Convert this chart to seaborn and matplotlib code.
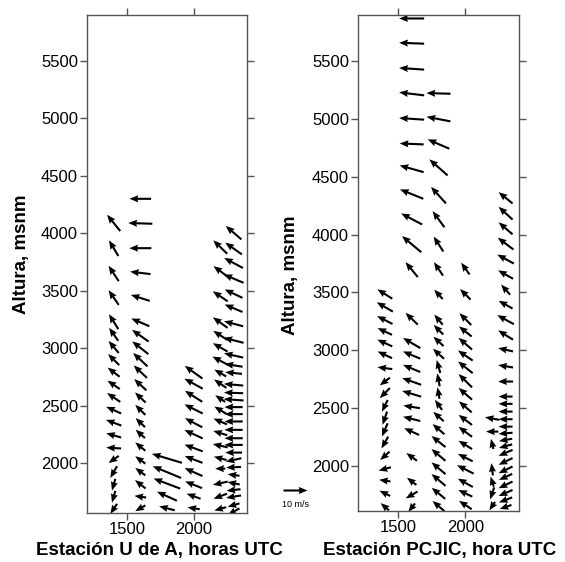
import numpy as np
import pandas as pd
import matplotlib
matplotlib.use("Agg")
import matplotlib.pyplot as plt
import seaborn as sns

sns.set_theme(style="ticks")
plt.rcParams['font.family'] = ['Liberation Sans', 'DejaVu Sans']
plt.rcParams['text.color'] = 'black'
plt.rcParams['axes.labelcolor'] = 'black'

# =========================
# Estacion U de A  (hora UTC, altura msnm, u, v en m/s)
# =========================
uda_h_1400 = [4090, 3870, 3650, 3440, 3230, 3120, 3010, 2900, 2790, 2680, 2570, 2460, 2350, 2240, 2130, 2030, 1920, 1810, 1705, 1600]
uda_u_1400 = [-5.5, -3.9, -4.2, -4.2, -3.9, -3.8, -4.2, -4.6, -5.0, -5.1, -5.5, -6.2, -6.4, -6.2, -6.2, -4.2, -2.8, -1.4, -1.4, -2.8]
uda_v_1400 = [6.8, 6.5, 6.4, 6.1, 6.2, 5.4, 5.0, 4.6, 3.8, 3.5, 3.7, 2.8, 2.4, 1.8, 0.4, -3.0, -4.9, -4.9, -4.9, -4.2]

uda_h_1600 = [4300, 4086, 3870, 3655, 3437, 3224, 3108, 3003, 2899, 2795, 2681, 2570, 2462, 2351, 2253, 2142, 2026, 1924, 1814, 1706, 1605]
uda_u_1600 = [-9.0, -10.0, -9.2, -8.5, -7.9, -7.5, -6.9, -6.7, -6.0, -5.5, -5.1, -4.4, -4.2, -3.9, -3.9, -4.2, -4.2, -4.2, -4.4, -4.9, -4.2]
uda_v_1600 = [0.0, 0.3, 0.0, 1.0, 2.5, 3.2, 4.9, 5.3, 5.6, 5.2, 4.7, 4.2, 4.2, 3.8, 3.5, 3.5, 3.1, 3.1, 3.5, 0.7, -2.4]

uda_h_1800 = [2040, 1920, 1820, 1710, 1605]
uda_u_1800 = [-12.5, -11.8, -11.1, -8.3, -6.5]
uda_v_1800 = [3.75, 4.9, 4.2, 3.75, 1.7]

uda_h_2000 = [2790, 2690, 2580, 2470, 2350, 2250, 2130, 2030, 1920, 1810, 1710, 1605]
uda_u_2000 = [-7.4, -7.6, -7.2, -7.6, -7.2, -7.6, -7.6, -7.4, -7.4, -7.0, -5.8, -5.1]
uda_v_2000 = [5.3, 4.2, 4.6, 3.8, 3.8, 3.5, 2.8, 2.8, 3.3, 2.8, 2.1, 0.8]

uda_h_2200 = [3880, 3670, 3451, 3222, 3111, 3006, 2890, 2783, 2690, 2560, 2460, 2361, 2260, 2150, 2040, 1950, 1823, 1710, 1600]
uda_u_2200 = [-5.8, -5.6, -6.2, -6.1, -5.8, -6.1, -6.5, -4.9, -5.1, -4.2, -4.9, -5.6, -5.8, -6.2, -5.3, -4.2, -6.2, -5.6, -4.9]
uda_v_2200 = [5.6, 4.2, 4.2, 4.4, 3.75, 3.5, 3.5, 2.8, 3.5, 2.8, 3.0, 2.4, 1.8, 1.4, 1.4, 0.0, -1.4, -2.1, -1.4]

uda_h_2300 = [4005, 3867, 3741, 3605, 3474, 3347, 3212, 3068, 2936, 2850, 2783, 2681, 2610, 2550, 2486, 2425, 2361, 2288, 2215, 2157,
              2090, 2026, 1962, 1895, 1823, 1764, 1706, 1633, 1575]
uda_u_2300 = [-6.5, -6.9, -7.8, -8.3, -7.4, -7.4, -8.0, -8.3, -8.0, -7.5, -7.0, -8.0, -8.0, -8.3, -7.6, -7.6, -7.6, -7.6, -7.6, -7.6,
              -7.0, -6.5, -6.2, -4.9, -5.1, -5.8, -6.2, -4.9, -4.9]
uda_v_2300 = [5.6, 4.9, 4.2, 3.5, 3.5, 3.1, 2.1, 2.1, 1.8, 1.2, 0.7, 0.7, 0.3, 0.6, 0.0, 0.0, 0.0, 0.0, 0.0, 0.0,
              0.0, -1.4, -0.3, 0.7, 1.0, -0.7, -1.0, -1.4, -2.8]

# =========================
# Estacion PCJIC
# =========================
pcj_h_1400 = [3487, 3375, 3262, 3163, 3063, 2961, 2846, 2730, 2630, 2520, 2413, 2312, 2202, 2087, 1974, 1873, 1763, 1647]
pcj_u_1400 = [-6.2, -6.7, -6.4, -6.0, -6.2, -6.0, -6.2, -4.2, -4.2, -2.4, -1.9, -2.4, -2.8, -3.9, -5.1, -4.7, -4.4, -3.5]
pcj_v_1400 = [3.9, 3.9, 3.3, 2.8, 2.8, 2.8, 0.8, -3.2, -4.2, -4.9, -5.5, -5.5, -4.9, -3.5, -1.4, 0.7, 2.2, 3.0]

pcj_h_1600 = [5870, 5656, 5435, 5218, 5002, 4785, 4570, 4351, 4136, 3918, 3698, 3273, 3063, 2959, 2843, 2731, 2624, 2511, 2407, 2297,
              2078, 1867, 1749, 1639]
pcj_u_1600 = [-10.4, -10.4, -10.4, -10.4, -10.4, -10.0, -10.0, -9.7, -8.75, -8.0, -5.1, -5.1, -7.2, -7.2, -7.2, -7.9, -7.9, -6.9, -7.2, -6.2,
              -4.4, -3.9, -4.9, -2.8]
pcj_v_1600 = [0.0, 0.4, 0.7, 1.25, 0.7, 0.4, 2.8, 3.9, 4.6, 6.7, 6.2, 4.9, 4.2, 3.0, 3.0, 2.8, 2.4, 1.1, 1.8, 2.8,
              3.2, 3.0, -2.8, -3.5]

pcj_h_1800 = [5222, 5000, 4784, 4582, 4342, 4134, 3919, 3704, 3484, 3265, 3178, 3077, 2970, 2860, 2745, 2630, 2528, 2427, 2318, 2211,
              2095, 1980, 1879, 1763, 1653]
pcj_u_1800 = [-10.0, -9.9, -9.0, -7.6, -6.2, -4.9, -4.0, -3.75, -3.5, -3.5, -4.0, -4.2, -4.6, -1.5, -1.0, -0.8, -3.0, -4.4, -4.9, -5.8,
              -5.8, -5.8, -5.8, -5.6, -4.9]
pcj_v_1800 = [0.3, 1.9, 3.9, 6.7, 6.9, 6.7, 6.2, 5.6, 3.9, 4.2, 4.0, 3.9, 4.2, 5.4, 5.4, 4.8, 4.2, 3.9, 4.2, 4.6,
              4.9, 4.9, 4.9, 4.6, 4.2]

pcj_h_2000 = [3707, 3484, 3270, 3163, 3057, 2955, 2853, 2737, 2624, 2511, 2398, 2295, 2182, 2072, 1970, 1854, 1763, 1662]
pcj_u_2000 = [-3.5, -4.4, -4.9, -5.3, -5.6, -6.1, -6.1, -5.6, -5.6, -5.3, -5.6, -5.6, -5.6, -6.1, -6.9, -6.2, -5.8, -5.3]
pcj_v_2000 = [4.9, 4.4, 4.9, 4.2, 4.9, 4.2, 4.9, 5.6, 4.9, 4.6, 4.2, 4.2, 3.5, 3.1, 3.5, 3.5, 2.8, 3.5]

pcj_h_2200 = [2410, 2297, 2190, 1971, 1864, 1763, 1653]
pcj_u_2200 = [-6.0, -5.1, -1.0, -0.6, -1.4, -1.7, -2.4]
pcj_v_2200 = [1.1, 0.0, 4.2, 5.1, 4.2, -5.0, -3.5]

pcj_h_2300 = [4319, 4186, 4055, 3923, 3789, 3655, 3525, 3395, 3265, 3132, 3005, 2862, 2730, 2600, 2537, 2470, 2404, 2340, 2282, 2225,
              2171, 2113, 2039, 1966, 1905, 1836, 1766, 1706, 1645]
pcj_u_2300 = [-5.8, -5.8, -5.8, -6.5, -6.9, -6.2, -3.75, -5.8, -6.9, -6.2, -6.2, -6.2, -6.2, -5.8, -5.8, -5.8, -5.8, -5.8, -5.8, -5.5,
              -5.5, -5.8, -5.8, -5.8, -5.5, -5.8, -5.8, -5.5, -4.9]
pcj_v_2300 = [4.7, 5.3, 5.0, 4.9, 3.75, 3.5, 4.2, 3.2, 3.75, 3.9, 1.4, 1.0, 0.0, 0.0, 0.0, 0.0, 0.0, 0.0, -0.5, -1.0,
              -1.5, -2.5, -2.8, -2.8, -2.5, -2.8, -2.5, -2.1, -1.7]

times = [1400, 1600, 1800, 2000, 2200, 2300]
x_ticks = [1500, 2000]
y_ticks = [2000, 2500, 3000, 3500, 4000, 4500, 5000, 5500]


def build(prefix):
    g = globals()
    rows = []
    for t in times:
        for h, u, v in zip(g[f"{prefix}_h_{t}"], g[f"{prefix}_u_{t}"], g[f"{prefix}_v_{t}"]):
            rows.append((t, h, u, v))
    return pd.DataFrame(rows, columns=["hora", "altura", "u", "v"])


df_uda = build("uda")
df_pcj = build("pcj")

fig = plt.figure(figsize=(5.65, 5.62), dpi=100)
ax1 = fig.add_axes([0.154, 0.0872, 0.283, 0.886])
ax2 = fig.add_axes([0.6336, 0.0907, 0.285, 0.8826])

quiver_kw = dict(pivot="middle", angles="uv", scale_units="inches", scale=10 / 0.24,
                 units="dots", width=2.1, headwidth=3.4, headlength=4.2, headaxislength=3.8,
                 color="black")

for ax, df, ylo in [(ax1, df_uda, 1564), (ax2, df_pcj, 1610)]:
    q = ax.quiver(df["hora"], df["altura"], df["u"], df["v"], **quiver_kw)
    ax.set_xlim(1200, 2400)
    ax.set_ylim(ylo, 5900)
    ax.set_xticks(x_ticks)
    ax.set_yticks(y_ticks)
    ax.tick_params(direction="out", length=5, width=1, colors="#555555",
                   labelcolor="black", labelsize=12, top=True, right=True,
                   labeltop=False, labelright=False, pad=1.5)
    for s in ax.spines.values():
        s.set_color("#555555")
        s.set_linewidth(1.0)
    ax.set_facecolor("white")

ax.quiverkey(q, 295 / 565, 1 - 490 / 562, 10, "10 m/s", coordinates="figure",
             labelpos="S", labelsep=0.1, fontproperties={"size": 6.5})

label_kw = dict(ha="center", va="center", fontsize=13.5, fontweight="bold", color="black")
fig.text(159 / 565, 1 - 550 / 562, "Estación U de A, horas UTC", **label_kw)
fig.text(440 / 565, 1 - 550 / 562, "Estación PCJIC, hora UTC", **label_kw)
fig.text(22 / 565, 1 - 254 / 562, "Altura, msnm", rotation=90, **label_kw)
fig.text(291 / 565, 1 - 275 / 562, "Altura, msnm", rotation=90, **label_kw)

fig.savefig("out.png", dpi=100, facecolor="white")
